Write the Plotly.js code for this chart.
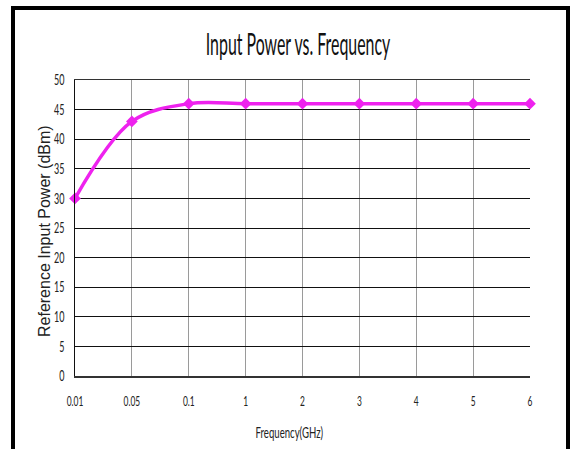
<!DOCTYPE html>
<html>
<head>
<meta charset="utf-8">
<script src="https://cdn.plot.ly/plotly-3.0.1.min.js"></script>
<style>
  html, body { margin: 0; padding: 0; background: #fff; }
  #chart { width: 571px; height: 449px; }
  #frame { position: absolute; left: 11px; top: 6px; width: 551px; height: 470px;
           border: 4px solid #000; pointer-events: none; box-sizing: content-box; }
</style>
</head>
<body>
<div id="chart"></div>
<div id="frame"></div>
<script>
const frequencies = ["0.01", "0.05", "0.1", "1", "2", "3", "4", "5", "6"];
const inputPower = [30, 43, 46, 46, 46, 46, 46, 46, 46];
const yTicks = [0, 5, 10, 15, 20, 25, 30, 35, 40, 45, 50];
const chartTitle = "Input Power vs. Frequency";
const xTitle = "Frequency(GHz)";
const yTitle = "Reference Input Power (dBm)";

const FONT = "Lato, 'Liberation Sans', sans-serif";

const trace = {
  x: frequencies,
  y: inputPower,
  type: "scatter",
  mode: "lines+markers",
  line: { color: "#ee22ee", width: 3.5, shape: "spline", smoothing: 1 },
  marker: { symbol: "diamond", size: 9, color: "#ee22ee" },
  cliponaxis: false,
  hoverinfo: "skip"
};

const layout = {
  width: 571, height: 449,
  margin: { l: 75, r: 41, t: 80, b: 73 },
  paper_bgcolor: "#fff", plot_bgcolor: "#fff",
  showlegend: false,
  title: {
    text: chartTitle,
    font: { family: FONT, size: 30, color: "#111" },
    x: 298 / 571, xanchor: "center", xref: "container",
    y: 1 - 44 / 449, yanchor: "middle", yref: "container"
  },
  xaxis: {
    type: "category",
    categoryorder: "array", categoryarray: frequencies,
    range: [0, frequencies.length - 1],
    showgrid: true, gridcolor: "#9a9a9a", gridwidth: 1,
    showline: true, mirror: true, linecolor: "#333", linewidth: 1.5,
    zeroline: false, ticks: "",
    ticklabelstandoff: 12,
    tickfont: { family: FONT, size: 14, color: "#222" }
  },
  yaxis: {
    range: [0, 50],
    tickvals: yTicks,
    showgrid: true, gridcolor: "#111", gridwidth: 1,
    showline: true, linecolor: "#111", linewidth: 1.5,
    zeroline: false, ticks: "",
    ticklabelstandoff: 6,
    tickfont: { family: FONT, size: 15, color: "#222" }
  },
  annotations: [{
    text: yTitle,
    xref: "paper", yref: "paper",
    x: 0, y: 0.5, xanchor: "center", yanchor: "middle",
    xshift: -31, yshift: -3,
    textangle: -90, showarrow: false,
    font: { family: "'Liberation Sans', Arial, sans-serif", size: 16, color: "#222" }
  }, {
    text: xTitle,
    xref: "paper", yref: "paper",
    x: (289.5 - 75) / 455, y: 0, xanchor: "center", yanchor: "middle",
    yshift: -55, showarrow: false,
    font: { family: FONT, size: 16, color: "#222" }
  }]
};

function squish(sel, f) {
  document.querySelectorAll(sel).forEach(t => {
    const L = t.getComputedTextLength();
    t.setAttribute("textLength", (L * f).toFixed(2));
    t.setAttribute("lengthAdjust", "spacingAndGlyphs");
  });
}

Plotly.newPlot("chart", [trace], layout, { staticPlot: true, displayModeBar: false }).then(() => {
  squish(".gtitle", 0.53);
  squish(".xtick text", 0.6);
  squish(".ytick text", 0.6);
  squish('.annotation[data-index="1"] text', 0.6);
});
</script>
</body>
</html>
